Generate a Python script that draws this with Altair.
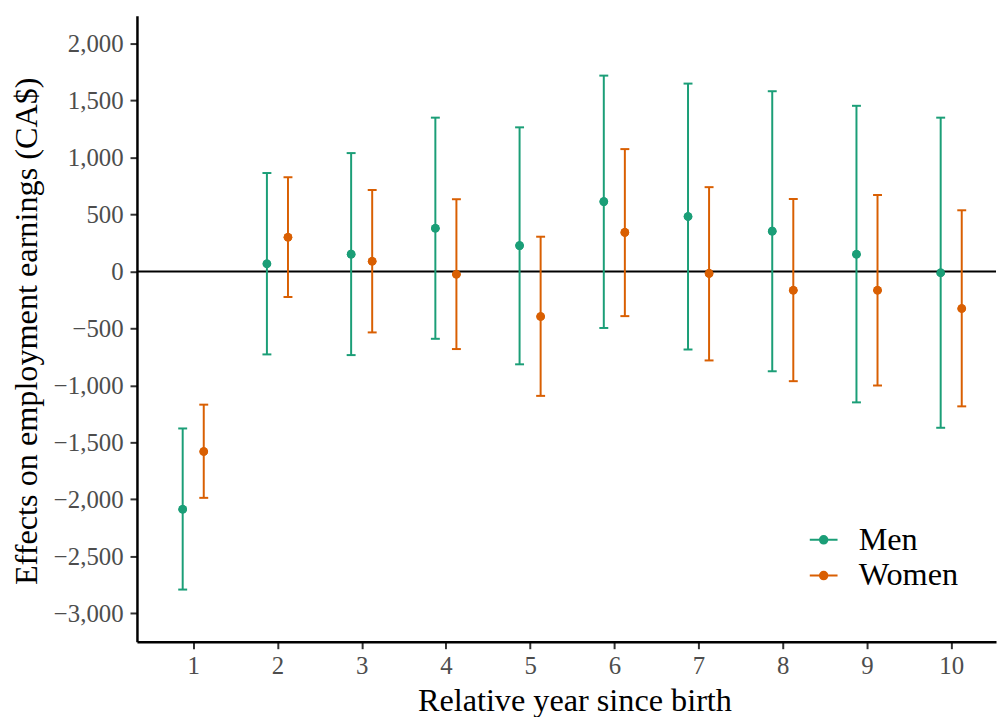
import altair as alt
import pandas as pd

years = list(range(1, 11))
men_est = [-2087, 68, 152, 380, 227, 613, 482, 354, 151, -11]
men_lo = [-2792, -728, -734, -591, -815, -496, -685, -876, -1149, -1372]
men_hi = [-1378, 864, 1039, 1350, 1265, 1719, 1649, 1582, 1454, 1350]
women_est = [-1580, 301, 90, -25, -395, 343, -17, -165, -165, -325]
women_lo = [-1987, -224, -535, -681, -1092, -392, -781, -963, -1001, -1184]
women_hi = [-1169, 827, 715, 634, 305, 1074, 740, 636, 671, 537]
groups = ["Men", "Women"]
colors = ["#1B9E77", "#D95F02"]
y_ticks = [-3000, -2500, -2000, -1500, -1000, -500, 0, 500, 1000, 1500, 2000]

rows = []
for i, yr in enumerate(years):
    rows.append({"year": yr, "sex": "Men", "est": men_est[i], "lo": men_lo[i], "hi": men_hi[i]})
    rows.append({"year": yr, "sex": "Women", "est": women_est[i], "lo": women_lo[i], "hi": women_hi[i]})
df = pd.DataFrame(rows)

FONT = "Liberation Serif"
W, H = 866, 631

base = alt.Chart(df).transform_calculate(
    xpos="datum.year + (datum.sex == 'Men' ? -0.125 : 0.125)"
)

xenc = alt.X(
    "xpos:Q",
    scale=alt.Scale(domain=[0.332, 10.532], nice=False, zero=False),
    axis=alt.Axis(values=years, title="Relative year since birth", format="d",
                  titleBaseline="alphabetic", titleX=W * 0.5 + 8, titleY=69),
)
yscale = alt.Scale(domain=[-3250, 2244], nice=False, zero=False)
yaxis = alt.Axis(values=y_ticks, format=",.0f", title="Effects on employment earnings (CA$)",
                 titleBaseline="alphabetic", titleX=-101, titleY=H * 0.5 + 2)

sym = "M-1,0L1,0M0.27,0A0.27,0.27,0,1,1,-0.27,0A0.27,0.27,0,1,1,0.27,0Z"
cenc = alt.Color(
    "sex:N",
    scale=alt.Scale(domain=groups, range=colors),
    legend=alt.Legend(
        title=None,
        orient="none",
        legendX=676,
        legendY=512,
        symbolType=sym,
        symbolSize=784,
        symbolStrokeWidth=2,
        labelFontSize=32.5,
        labelFont=FONT,
        labelColor="black",
        labelOffset=19,
        rowPadding=3,
    ),
)

zero = alt.Chart(pd.DataFrame({"z": [0]})).mark_rule(color="black", strokeWidth=2).encode(
    y=alt.Y("z:Q", scale=yscale, axis=yaxis)
)

bars = base.mark_rule(strokeWidth=2).encode(
    x=xenc,
    y=alt.Y("lo:Q", scale=yscale, axis=yaxis),
    y2="hi:Q",
    color=cenc,
)
cap_lo = base.mark_rule(strokeWidth=2, xOffset=-4.5, x2Offset=4.5).encode(
    x=xenc, x2="xpos:Q", y=alt.Y("lo:Q", scale=yscale, axis=yaxis), color=cenc
)
cap_hi = base.mark_rule(strokeWidth=2, xOffset=-4.5, x2Offset=4.5).encode(
    x=xenc, x2="xpos:Q", y=alt.Y("hi:Q", scale=yscale, axis=yaxis), color=cenc
)
points = base.mark_point(filled=True, size=75, opacity=1).encode(
    x=xenc, y=alt.Y("est:Q", scale=yscale, axis=yaxis), color=cenc
)

chart = alt.layer(points, zero, bars, cap_lo, cap_hi, points).properties(
    width=W,
    height=H,
    autosize=alt.AutoSizeParams(type="none"),
    padding={"left": 130, "top": 5, "right": 2, "bottom": 73},
).configure_view(stroke=None).configure_axis(
    grid=False,
    domainColor="black",
    domainWidth=2.5,
    tickColor="#333333",
    tickWidth=2,
    tickSize=7,
    labelFont=FONT,
    labelFontSize=25,
    labelColor="#4D4D4D",
    labelPadding=5,
    titleFont=FONT,
    titleFontSize=32.5,
    titleFontWeight="normal",
    titleColor="black",
).configure_axisY(labelPadding=7)

chart.save("out.html", embed_options={"renderer": "svg", "actions": False})
